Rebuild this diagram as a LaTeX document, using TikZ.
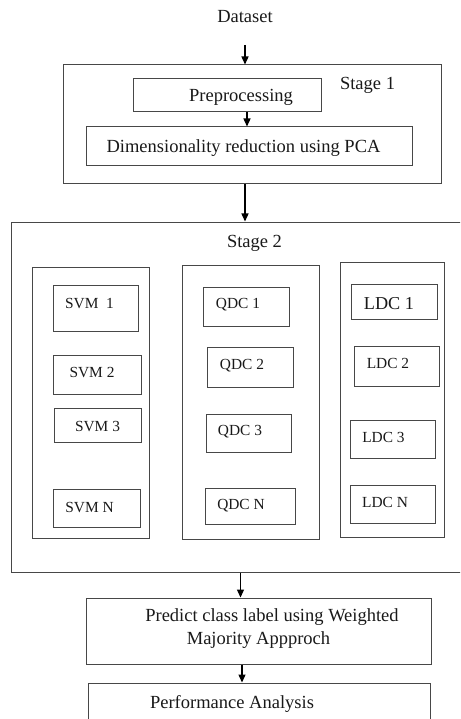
\documentclass[tikz,border=0pt]{standalone}
\usepackage{fontspec}
\setmainfont{Liberation Serif}
\usetikzlibrary{arrows.meta}
\begin{document}
\begin{tikzpicture}[x=1pt,y=-1pt,
  box/.style={draw=black!72,line width=1pt,rectangle,inner sep=0pt},
  big/.style={font=\fontsize{18.5}{21}\selectfont,inner sep=0pt,text=black!90,yshift=-1.5pt},
  small/.style={font=\fontsize{15.4}{18}\selectfont,inner sep=0pt,text=black!90,yshift=-1.5pt},
  arr/.style={line width=1.3pt,-{Triangle[length=8pt,width=7pt]}}]
\useasboundingbox (0,0) rectangle (460,719);
\clip (0,0) rectangle (460,719);
% Stage 1
\node[big] (dataset) at (245,15) {Dataset};
\node[box,minimum width=378,minimum height=119] (stage1) at (252,124.5) {};
\node[big] (s1t) at (367.5,84) {Stage 1};
\node[box,minimum width=188,minimum height=33] (pre) at (227,95.5) {};
\node[big] (pret) at (241,96) {Preprocessing};
\node[box,minimum width=326,minimum height=39] (dim) at (249,146.5) {};
\node[big] (dimt) at (243.5,147) {Dimensionality reduction using PCA};
% Stage 2
\node[box,minimum width=459,minimum height=350] (stage2) at (240.5,397) {};
\node[big] (s2t) at (254.5,242) {Stage 2};
\node[box,minimum width=117,minimum height=271] (svmc) at (90.5,402.5) {};
\node[box,minimum width=137,minimum height=274] (qdcc) at (250.5,402) {};
\node[box,minimum width=104,minimum height=275] (ldcc) at (392,399.5) {};
% SVM
\node[box,minimum width=85,minimum height=46] (svm1) at (95.5,308) {};
\node[small] (svm1t) at (89.5,302) {SVM\ \ 1};
\node[box,minimum width=88,minimum height=39] (svm2) at (97,374.5) {};
\node[small] (svm2t) at (92,371) {SVM 2};
\node[box,minimum width=87,minimum height=34] (svm3) at (97.5,425) {};
\node[small] (svm3t) at (97.5,425) {SVM 3};
\node[box,minimum width=87,minimum height=38] (svmn) at (96.5,508) {};
\node[small] (svmnt) at (89.5,506) {SVM N};
% QDC
\node[box,minimum width=86,minimum height=39] (qdc1) at (246,306.5) {};
\node[small] (qdc1t) at (238,303) {QDC 1};
\node[box,minimum width=86,minimum height=40] (qdc2) at (250,367) {};
\node[small] (qdc2t) at (242,364) {QDC 2};
\node[box,minimum width=85,minimum height=38] (qdc3) at (248.5,433) {};
\node[small] (qdc3t) at (240,430) {QDC 3};
\node[box,minimum width=90,minimum height=36] (qdcn) at (250,506) {};
\node[small] (qdcnt) at (241,504) {QDC N};
% LDC
\node[box,minimum width=86,minimum height=35] (ldc1) at (394,301.5) {};
\node[big,font=\fontsize{18.2}{21}\selectfont] (ldc1t) at (389,302) {LDC 1};
\node[box,minimum width=85,minimum height=40] (ldc2) at (396.5,366) {};
\node[small] (ldc2t) at (388,362) {LDC 2};
\node[box,minimum width=85,minimum height=38] (ldc3) at (392.5,439) {};
\node[small] (ldc3t) at (383.5,436) {LDC 3};
\node[box,minimum width=85,minimum height=38] (ldcn) at (392.5,504) {};
\node[small] (ldcnt) at (385,501) {LDC N};
% Bottom
\node[box,minimum width=345,minimum height=66] (pred) at (258.5,631) {};
\node[big] (pred1) at (272,616) {Predict class label using Weighted};
\node[big] (pred2) at (258.5,639) {Majority Appproch};
\node[box,minimum width=342,minimum height=57] (perf) at (259,711.5) {};
\node[big] (perft) at (232,702) {Performance Analysis};
% Arrows
\coordinate (a0) at (245,45);
\draw[arr] (a0) -- (a0 |- stage1.north);
\draw[arr] ([xshift=20pt]pre.south) -- ([xshift=20pt]pre.south |- dim.north);
\draw[arr] ([xshift=-7pt]stage1.south) -- ([xshift=-7pt]stage1.south |- stage2.north);
\draw[arr] (stage2.south) -- (stage2.south |- pred.north);
\draw[arr] ([xshift=-16.5pt]pred.south) -- ([xshift=-16.5pt]pred.south |- perf.north);
\end{tikzpicture}
\end{document}
